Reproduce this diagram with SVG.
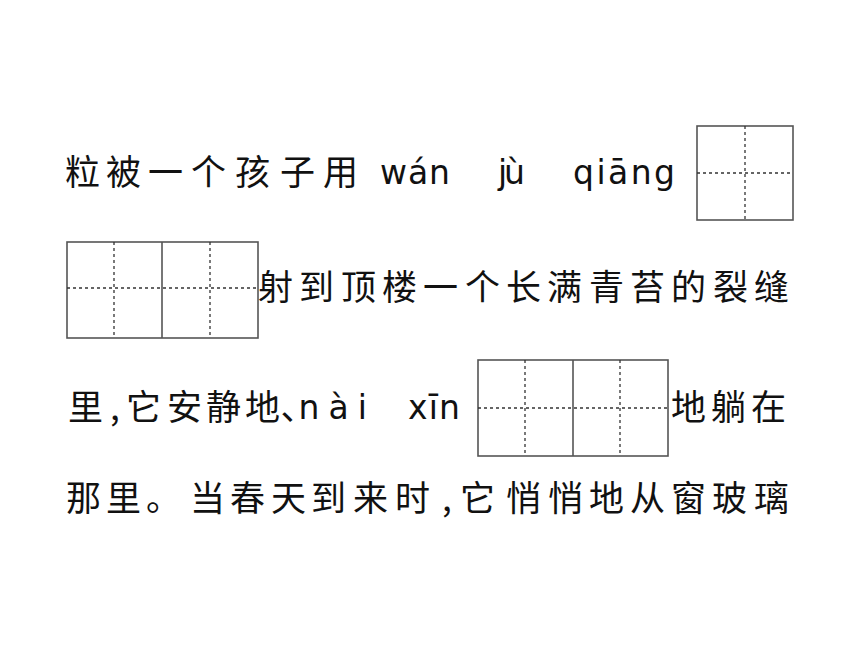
<svg xmlns="http://www.w3.org/2000/svg" width="860" height="645" viewBox="0 0 860 645">
<style>
.zh{font-family:"Noto Sans CJK SC","Noto Sans CJK TC",sans-serif;font-size:35px;fill:#111;}
.py{font-family:"DejaVu Sans","Liberation Sans",sans-serif;font-size:33px;fill:#111;}
.half{font-feature-settings:"halt";}
.frame{fill:none;stroke:#555;stroke-width:1.6;}
.mid{stroke:#555;stroke-width:1.6;}
.dash{stroke:#333;stroke-width:1.3;stroke-dasharray:3 3;}
</style>
<rect width="860" height="645" fill="#fff"/>
<g id="line1">
<text class="zh" x="65 106 148 191 235 280 323" y="185">粒被一个孩子用</text>
<text class="py" x="380" y="184" textLength="70" lengthAdjust="spacing">wán</text>
<text class="py" x="498" y="184" textLength="27" lengthAdjust="spacing">jù</text>
<text class="py" x="573" y="184" textLength="102" lengthAdjust="spacing">qiāng</text>
</g>
<g id="box1">
<rect class="frame" x="697" y="126" width="96" height="94"/>
<line class="dash" x1="745" y1="126" x2="745" y2="220"/>
<line class="dash" x1="697" y1="173" x2="793" y2="173"/>
</g>
<g id="box2">
<rect class="frame" x="67" y="242" width="191" height="96"/>
<line class="mid" x1="162" y1="242" x2="162" y2="338"/>
<line class="dash" x1="114" y1="242" x2="114" y2="338"/>
<line class="dash" x1="210" y1="242" x2="210" y2="338"/>
<line class="dash" x1="67" y1="288" x2="258" y2="288"/>
</g>
<g id="line2">
<text class="zh" x="258 299 341 382 423 465 506 547 589 630 671 713 754" y="300">射到顶楼一个长满青苔的裂缝</text>
</g>
<g id="line3">
<text class="zh" x="68 110 126 167 206 245" y="420">里,它安静地</text>
<text class="zh half" x="280.5" y="420">、</text>
<text class="py" x="298.5" y="419" style="letter-spacing:9px">nài</text>
<text class="py" x="408" y="419" textLength="52" lengthAdjust="spacing">xīn</text>
<text class="zh" x="671 711 751" y="420">地躺在</text>
</g>
<g id="box3">
<rect class="frame" x="478" y="360" width="190" height="96"/>
<line class="mid" x1="573" y1="360" x2="573" y2="456"/>
<line class="dash" x1="525" y1="360" x2="525" y2="456"/>
<line class="dash" x1="620" y1="360" x2="620" y2="456"/>
<line class="dash" x1="478" y1="408" x2="668" y2="408"/>
</g>
<g id="line4">
<text class="zh" x="66 106 146 190 230 271 311 353 395 442 460 506 548 589 630 671 712 754" y="511">那里。当春天到来时,它悄悄地从窗玻璃</text>
</g>
</svg>
